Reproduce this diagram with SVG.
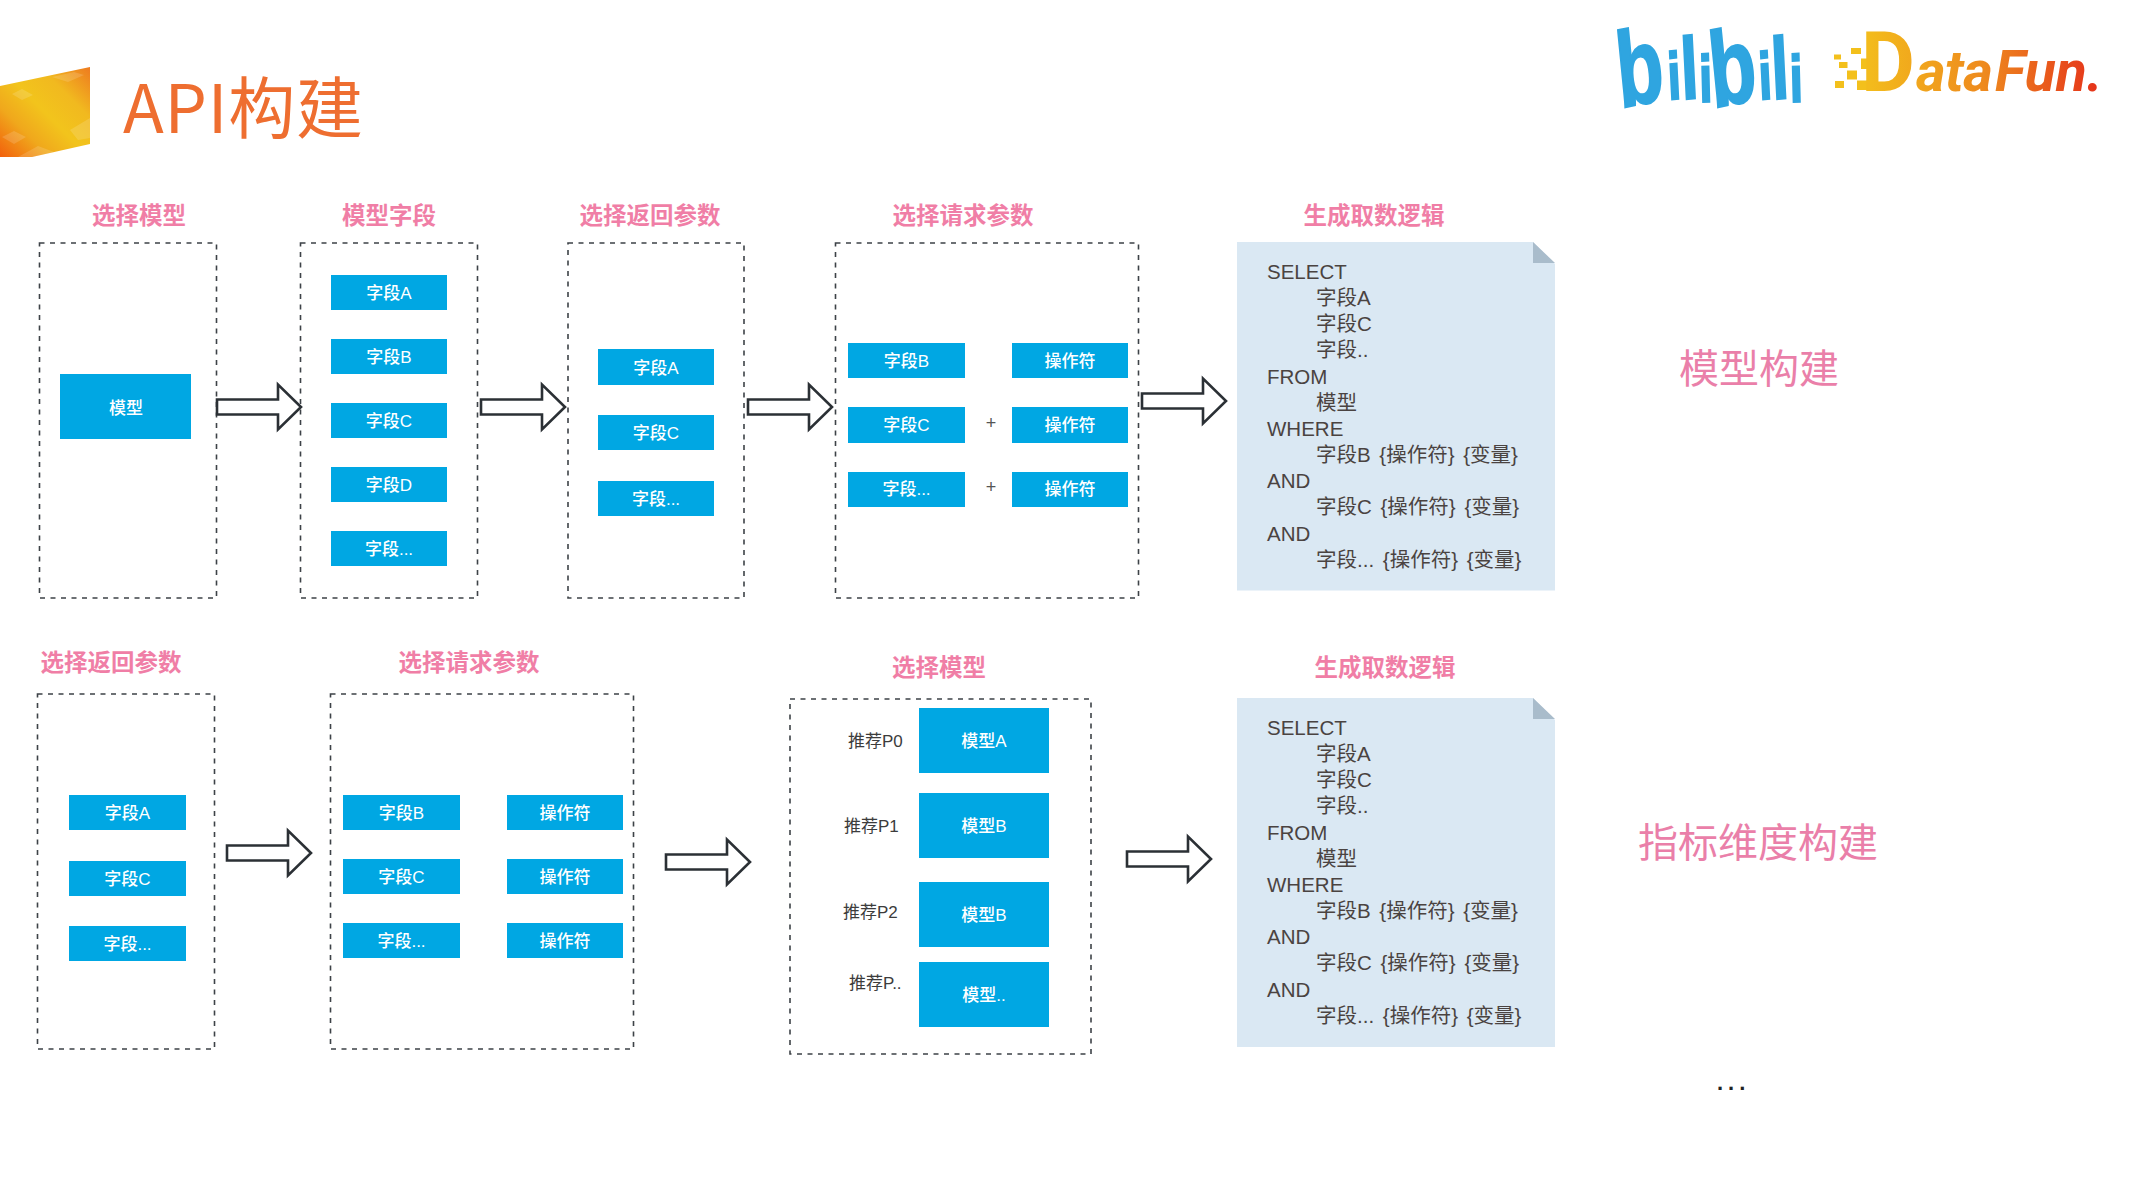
<svg xmlns="http://www.w3.org/2000/svg" width="2133" height="1200" viewBox="0 0 2133 1200">
<style>
text{font-family:"Liberation Sans","Noto Sans CJK SC",sans-serif}
.box{fill:none;stroke:#3d4247;stroke-width:1.6;stroke-dasharray:5 5.5}
.bar{fill:#00a7e3}
.lb{fill:#fff;font-size:17px;font-weight:500;text-anchor:middle}
.ttl{fill:#f07ea6;font-size:23.5px;font-weight:700;text-anchor:middle}
.big{fill:#ea7fa9;font-size:40px;text-anchor:middle}
.rank{fill:#3c3c3c;font-size:17px}
.plus{fill:#555;font-size:18px;text-anchor:middle}
.doc{fill:#dae8f3}
.fold{fill:#a9bccb}
.code{fill:#4a4341;font-size:20.5px;word-spacing:3px}
.arr{fill:#fff;stroke:#2b3035;stroke-width:2.6;stroke-linejoin:miter}
</style>
<defs>
<linearGradient id="sw" gradientUnits="userSpaceOnUse" x1="0" y1="157" x2="90" y2="67"><stop offset="0" stop-color="#f2600c"/><stop offset=".28" stop-color="#f0a81c"/><stop offset=".5" stop-color="#f2c41c"/><stop offset=".72" stop-color="#f1b91f"/><stop offset="1" stop-color="#ee7a20"/></linearGradient>
<linearGradient id="df" gradientUnits="userSpaceOnUse" x1="1869" y1="0" x2="2099" y2="0"><stop offset="0" stop-color="#f3bb1c"/><stop offset=".5" stop-color="#ee8a1e"/><stop offset="1" stop-color="#e5321a"/></linearGradient>
<path id="arrow" d="M0,-7.5H61V-22.5L84,0L61,22.5V7.5H0Z"/>
</defs>
<rect width="2133" height="1200" fill="#fff"/>

<g id="header">
<polygon points="0,86 90,67 90,144 32,157 0,157" fill="url(#sw)"/>
<g fill="#fff" opacity=".14">
<polygon points="12,94 22,89 33,95 22,100"/><polygon points="2,137 14,131 26,137 14,144"/><polygon points="70,130 90,118 90,138 78,140"/><polygon points="52,77 74,72 84,75 68,82"/><polygon points="18,157 38,146 54,152 32,157"/>
</g>
<text x="123" y="133" font-size="67" fill="#ee6e30" textLength="240" style="font-family:'Noto Sans CJK SC','Noto Sans',sans-serif">API构建</text>
</g>

<g id="logo-bilibili">
<text transform="translate(1622,0) scale(.85,1.2)" fill="#2fa5e0" stroke="#2fa5e0" stroke-width="2" font-weight="700"><tspan x="-2" y="90" font-size="89" rotate="-8">b</tspan><tspan x="55" y="83" font-size="55" rotate="-4">i</tspan><tspan x="71" y="83" font-size="73" rotate="-4">l</tspan><tspan x="91.500" y="85" font-size="55" rotate="-2">i</tspan><tspan x="107" y="90" font-size="89" rotate="-8">b</tspan><tspan x="162" y="83" font-size="55" rotate="-4">i</tspan><tspan x="177.500" y="83" font-size="73" rotate="-4">l</tspan><tspan x="198" y="85" font-size="55" rotate="-2">i</tspan></text>
</g>

<g id="logo-datafun">
<g fill="#f3c01c">
<rect x="1834" y="54.5" width="7" height="5"/><rect x="1851" y="48" width="10" height="6"/><rect x="1839" y="62" width="8.5" height="6"/><rect x="1861" y="58.5" width="11" height="10.5"/><rect x="1847" y="70.5" width="10" height="9"/><rect x="1835" y="81" width="9" height="7"/><rect x="1857" y="80.5" width="12" height="9.5"/>
</g>
<text fill="url(#df)" font-weight="700" font-style="italic" style="font-family:Roboto,sans-serif"><tspan x="1861" y="91" font-size="83" font-style="normal">D</tspan><tspan x="1916" y="91" font-size="57" letter-spacing="-.5">ata</tspan><tspan x="1995" y="91" font-size="57">Fun.</tspan></text>
</g>

<g id="r1-model">
<text class="ttl" x="139" y="224">选择模型</text>
<rect class="box" x="39.5" y="243" width="177" height="355"/>
<rect class="bar" x="60" y="374" width="131" height="65"/>
<text class="lb" x="126" y="414">模型</text>
</g>

<g id="r1-fields">
<text class="ttl" x="389" y="224">模型字段</text>
<rect class="box" x="300.5" y="243" width="177" height="355"/>
<rect class="bar" x="331" y="275" width="116" height="35"/><text class="lb" x="389" y="299">字段A</text>
<rect class="bar" x="331" y="339" width="116" height="35"/><text class="lb" x="389" y="363">字段B</text>
<rect class="bar" x="331" y="403" width="116" height="35"/><text class="lb" x="389" y="427">字段C</text>
<rect class="bar" x="331" y="467" width="116" height="35"/><text class="lb" x="389" y="491">字段D</text>
<rect class="bar" x="331" y="531" width="116" height="35"/><text class="lb" x="389" y="555">字段...</text>
</g>

<g id="r1-return">
<text class="ttl" x="650" y="224">选择返回参数</text>
<rect class="box" x="568" y="243" width="176" height="355"/>
<rect class="bar" x="598" y="349" width="116" height="36"/><text class="lb" x="656" y="374">字段A</text>
<rect class="bar" x="598" y="415" width="116" height="35"/><text class="lb" x="656" y="439">字段C</text>
<rect class="bar" x="598" y="481" width="116" height="35"/><text class="lb" x="656" y="505">字段...</text>
</g>

<g id="r1-request">
<text class="ttl" x="963" y="224">选择请求参数</text>
<rect class="box" x="835.5" y="243" width="303" height="355"/>
<rect class="bar" x="848" y="343" width="117" height="35"/><text class="lb" x="906.500" y="367">字段B</text>
<rect class="bar" x="1012" y="343" width="116" height="35"/><text class="lb" x="1070" y="367">操作符</text>
<rect class="bar" x="848" y="407" width="117" height="36"/><text class="lb" x="906.500" y="431">字段C</text>
<text class="plus" x="991" y="429">+</text>
<rect class="bar" x="1012" y="407" width="116" height="36"/><text class="lb" x="1070" y="431">操作符</text>
<rect class="bar" x="848" y="472" width="117" height="35"/><text class="lb" x="906.500" y="495">字段...</text>
<text class="plus" x="991" y="493">+</text>
<rect class="bar" x="1012" y="472" width="116" height="35"/><text class="lb" x="1070" y="495">操作符</text>
</g>

<g id="r1-sql">
<text class="ttl" x="1374" y="224">生成取数逻辑</text>
<polygon class="doc" points="1237,242 1533,242 1555,264 1555,590.500 1237,590.500"/>
<polygon class="fold" points="1533,242 1533,263 1555,263"/>
<text class="code" x="1267" y="279">SELECT</text>
<text class="code" x="1316" y="305">字段A</text>
<text class="code" x="1316" y="331">字段C</text>
<text class="code" x="1316" y="357">字段..</text>
<text class="code" x="1267" y="384">FROM</text>
<text class="code" x="1316" y="410">模型</text>
<text class="code" x="1267" y="436">WHERE</text>
<text class="code" x="1316" y="462">字段B {操作符} {变量}</text>
<text class="code" x="1267" y="488">AND</text>
<text class="code" x="1316" y="514">字段C {操作符} {变量}</text>
<text class="code" x="1267" y="541">AND</text>
<text class="code" x="1316" y="567">字段... {操作符} {变量}</text>
</g>

<g id="label-model"><text class="big" x="1759" y="383">模型构建</text></g>

<g id="r2-return">
<text class="ttl" x="111" y="671">选择返回参数</text>
<rect class="box" x="37.500" y="694" width="177" height="355"/>
<rect class="bar" x="69" y="795" width="117" height="35"/><text class="lb" x="127.500" y="819">字段A</text>
<rect class="bar" x="69" y="861" width="117" height="35"/><text class="lb" x="127.500" y="885">字段C</text>
<rect class="bar" x="69" y="926" width="117" height="35"/><text class="lb" x="127.500" y="950">字段...</text>
</g>

<g id="r2-request">
<text class="ttl" x="469" y="671">选择请求参数</text>
<rect class="box" x="330.500" y="694" width="303" height="355"/>
<rect class="bar" x="343" y="795" width="117" height="35"/><text class="lb" x="401.500" y="819">字段B</text>
<rect class="bar" x="507" y="795" width="116" height="35"/><text class="lb" x="565" y="819">操作符</text>
<rect class="bar" x="343" y="859" width="117" height="35"/><text class="lb" x="401.500" y="883">字段C</text>
<rect class="bar" x="507" y="859" width="116" height="35"/><text class="lb" x="565" y="883">操作符</text>
<rect class="bar" x="343" y="923" width="117" height="35"/><text class="lb" x="401.500" y="947">字段...</text>
<rect class="bar" x="507" y="923" width="116" height="35"/><text class="lb" x="565" y="947">操作符</text>
</g>

<g id="r2-model">
<text class="ttl" x="939" y="676">选择模型</text>
<rect class="box" x="790" y="699" width="301" height="355"/>
<text class="rank" x="848" y="747">推荐P0</text>
<rect class="bar" x="919" y="708" width="130" height="65"/><text class="lb" x="984" y="747">模型A</text>
<text class="rank" x="844" y="832">推荐P1</text>
<rect class="bar" x="919" y="793" width="130" height="65"/><text class="lb" x="984" y="832">模型B</text>
<text class="rank" x="843" y="918">推荐P2</text>
<rect class="bar" x="919" y="882" width="130" height="65"/><text class="lb" x="984" y="921">模型B</text>
<text class="rank" x="849" y="989">推荐P..</text>
<rect class="bar" x="919" y="962" width="130" height="65"/><text class="lb" x="984" y="1001">模型..</text>
</g>

<g id="r2-sql">
<text class="ttl" x="1385" y="676">生成取数逻辑</text>
<polygon class="doc" points="1237,698 1533,698 1555,720 1555,1047 1237,1047"/>
<polygon class="fold" points="1533,698 1533,719 1555,719"/>
<text class="code" x="1267" y="735">SELECT</text>
<text class="code" x="1316" y="761">字段A</text>
<text class="code" x="1316" y="787">字段C</text>
<text class="code" x="1316" y="813">字段..</text>
<text class="code" x="1267" y="840">FROM</text>
<text class="code" x="1316" y="866">模型</text>
<text class="code" x="1267" y="892">WHERE</text>
<text class="code" x="1316" y="918">字段B {操作符} {变量}</text>
<text class="code" x="1267" y="944">AND</text>
<text class="code" x="1316" y="970">字段C {操作符} {变量}</text>
<text class="code" x="1267" y="997">AND</text>
<text class="code" x="1316" y="1023">字段... {操作符} {变量}</text>
</g>

<g id="label-metric"><text class="big" x="1758" y="857">指标维度构建</text></g>
<g id="ellipsis"><text x="1717" y="1090" font-size="22" font-weight="700" letter-spacing="5" fill="#222">...</text></g>

<g id="connectors">
<use href="#arrow" class="arr" x="217" y="407"/>
<use href="#arrow" class="arr" x="481" y="407"/>
<use href="#arrow" class="arr" x="748" y="407"/>
<use href="#arrow" class="arr" x="1142" y="401"/>
<use href="#arrow" class="arr" x="227" y="853"/>
<use href="#arrow" class="arr" x="666" y="862"/>
<use href="#arrow" class="arr" x="1127" y="859"/>
</g>
</svg>
